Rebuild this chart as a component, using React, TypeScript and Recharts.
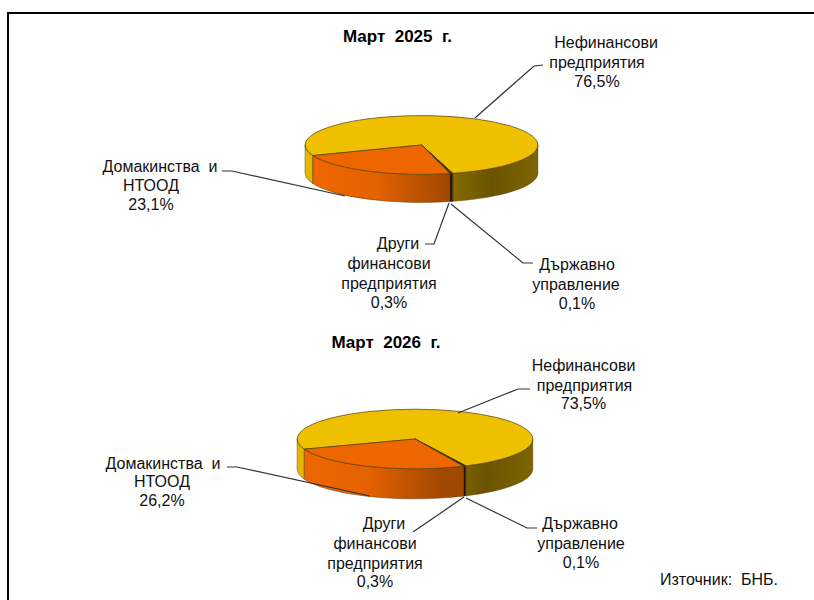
import { PieChart, Pie } from "recharts";

const categories = ["Нефинансови предприятия", "Държавно управление", "Други финансови предприятия", "Домакинства и НТООД"];
const values2025 = [76.5, 0.1, 0.3, 23.1];
const values2026 = [73.5, 0.1, 0.3, 26.2];

const labelLines = [
  ["Нефинансови", "предприятия"],
  ["Държавно", "управление"],
  ["Други", "финансови", "предприятия"],
  ["Домакинства  и", "НТООД"],
];

const FILLS = ["#EEC000", "#2e1600", "#1a0c00", "#EE6600"];
const FONT = "Arial, 'Liberation Sans', sans-serif";
const TILT = 0.253;

const toData = (values: number[]) =>
  categories.map((name, i) => ({ name, value: values[i], fill: FILLS[i], lines: labelLines[i] }));

// label placement, one entry per category: x centre and y centre of each text row, then the leader line
const layout2025 = [
  { xs: [606, 597, 597], ys: [42, 62, 81], leader: "543,65 534,66 475,118" },
  { xs: [577, 576, 577], ys: [264, 284, 303], leader: "533,263 523,263 451,204" },
  { xs: [398, 389, 389, 389], ys: [243, 263, 283, 302], leader: "425,244 434,244 449,203" },
  { xs: [160, 151, 151], ys: [166, 185, 204], leader: "222,171 232,171 345,196" },
];
const layout2026 = [
  { xs: [583.5, 584.5, 583.5], ys: [365, 385, 403], leader: "530,389 518,389 458,413" },
  { xs: [580, 581, 581], ys: [523, 543, 562], leader: "537,528 527,528 466,498" },
  { xs: [384, 375, 375, 375], ys: [523, 543, 563, 581], leader: "413,532 464,497" },
  { xs: [163, 162, 162], ys: [463, 481, 500], leader: "227,467 237,467 370,496" },
];

const ellipsePoint = (cx: number, cy: number, rx: number, ry: number, deg: number) => {
  const a = (deg * Math.PI) / 180;
  return [cx + rx * Math.cos(a), cy + ry * Math.sin(a)];
};

// Sector drawn as a tilted disc slice: an elliptical top plus the front wall below it
function makeDisc(id: string, depth: number) {
  return function DiscSector(props: any) {
    const { cx, cy, outerRadius: rx, startAngle, endAngle, fill, index } = props;
    const ry = rx * TILT;
    const s = ((-startAngle % 360) + 360) % 360;
    const e = s + Math.abs(endAngle - startAngle);
    const [x0, y0] = ellipsePoint(cx, cy, rx, ry, s);
    const [x1, y1] = ellipsePoint(cx, cy, rx, ry, e);
    const large = e - s > 180 ? 1 : 0;
    const top = `M${cx},${cy}L${x0},${y0}A${rx},${ry} 0 ${large} 1 ${x1},${y1}Z`;

    const walls: string[] = [];
    [[0, 180], [360, 540]].forEach(([lo, hi]) => {
      const a = Math.max(s, lo);
      const b = Math.min(e, hi);
      if (b <= a) return;
      const [ax, ay] = ellipsePoint(cx, cy, rx, ry, a);
      const [bx, by] = ellipsePoint(cx, cy, rx, ry, b);
      walls.push(
        `M${ax},${ay}A${rx},${ry} 0 0 1 ${bx},${by}L${bx},${by + depth}A${rx},${ry} 0 0 0 ${ax},${ay + depth}Z`
      );
    });

    const wallFill = index === 0 ? `url(#${id}-y)` : index === 3 ? `url(#${id}-o)` : fill;
    return (
      <g>
        <defs>
          <linearGradient id={`${id}-y`} gradientUnits="userSpaceOnUse" x1={cx - rx} x2={cx + rx} y1={0} y2={0}>
            <stop offset="0" stopColor="#E6BA00" />
            <stop offset="0.05" stopColor="#DDB200" />
            <stop offset="0.6" stopColor="#8C7000" />
            <stop offset="0.8" stopColor="#6A5300" />
            <stop offset="1" stopColor="#7E6500" />
          </linearGradient>
          <linearGradient id={`${id}-o`} gradientUnits="userSpaceOnUse" x1={cx - rx} x2={cx + rx} y1={0} y2={0}>
            <stop offset="0.05" stopColor="#EE6600" />
            <stop offset="0.3" stopColor="#E56200" />
            <stop offset="0.62" stopColor="#A04800" />
          </linearGradient>
        </defs>
        {walls.map((d) => (
          <path key={d} d={d} fill={wallFill} stroke="#5a3a00" strokeWidth={0.5} />
        ))}
        <path d={top} fill={fill} stroke="#4e3a00" strokeWidth={0.7} />
      </g>
    );
  };
}

function makeLabel(layout: typeof layout2025) {
  return function SliceLabel(props: any) {
    const { index, payload } = props;
    const place = layout[index];
    const rows = [...payload.lines, `${payload.value.toFixed(1).replace(".", ",")}%`];
    return (
      <g>
        <polyline points={place.leader} fill="none" stroke="#333" strokeWidth={1.2} />
        {rows.map((row: string, i: number) => (
          <text key={i} x={place.xs[i]} y={place.ys[i] + 5.5} textAnchor="middle" fontSize={16} fontFamily={FONT} fill="#111" style={{ whiteSpace: "pre" }}>
            {row}
          </text>
        ))}
      </g>
    );
  };
}

export default function App() {
  return (
    <div style={{ position: "absolute", left: 0, top: 0, width: 814, height: 600, overflow: "hidden", background: "#fff" }}>
      <div style={{ position: "absolute", left: 7, top: 12, width: 807, height: 588, borderLeft: "2px solid #000", borderTop: "2px solid #000", boxSizing: "border-box" }} />
      <PieChart width={814} height={600} margin={{ top: 0, right: 0, bottom: 0, left: 0 }}>
        <text x={397.5} y={42} textAnchor="middle" fontSize={17} fontWeight="bold" fontFamily={FONT} fill="#000" style={{ whiteSpace: "pre" }}>
          Март  2025  г.
        </text>
        <text x={386} y={348} textAnchor="middle" fontSize={17} fontWeight="bold" fontFamily={FONT} fill="#000" style={{ whiteSpace: "pre" }}>
          Март  2026  г.
        </text>
        <text x={660} y={584.5} fontSize={16} fontFamily={FONT} fill="#111" style={{ whiteSpace: "pre" }}>
          Източник:  БНБ.
        </text>
        <Pie
          data={toData(values2025)}
          dataKey="value"
          nameKey="name"
          cx={421.5}
          cy={145}
          innerRadius={0}
          outerRadius={116.4}
          startAngle={201}
          endAngle={-159}
          isAnimationActive={false}
          shape={makeDisc("d25", 28)}
          label={makeLabel(layout2025)}
          labelLine={false}
          rootTabIndex={-1}
        />
        <Pie
          data={toData(values2026)}
          dataKey="value"
          nameKey="name"
          cx={415}
          cy={439}
          innerRadius={0}
          outerRadius={117.8}
          startAngle={200}
          endAngle={-160}
          isAnimationActive={false}
          shape={makeDisc("d26", 30)}
          label={makeLabel(layout2026)}
          labelLine={false}
          rootTabIndex={-1}
        />
      </PieChart>
    </div>
  );
}
